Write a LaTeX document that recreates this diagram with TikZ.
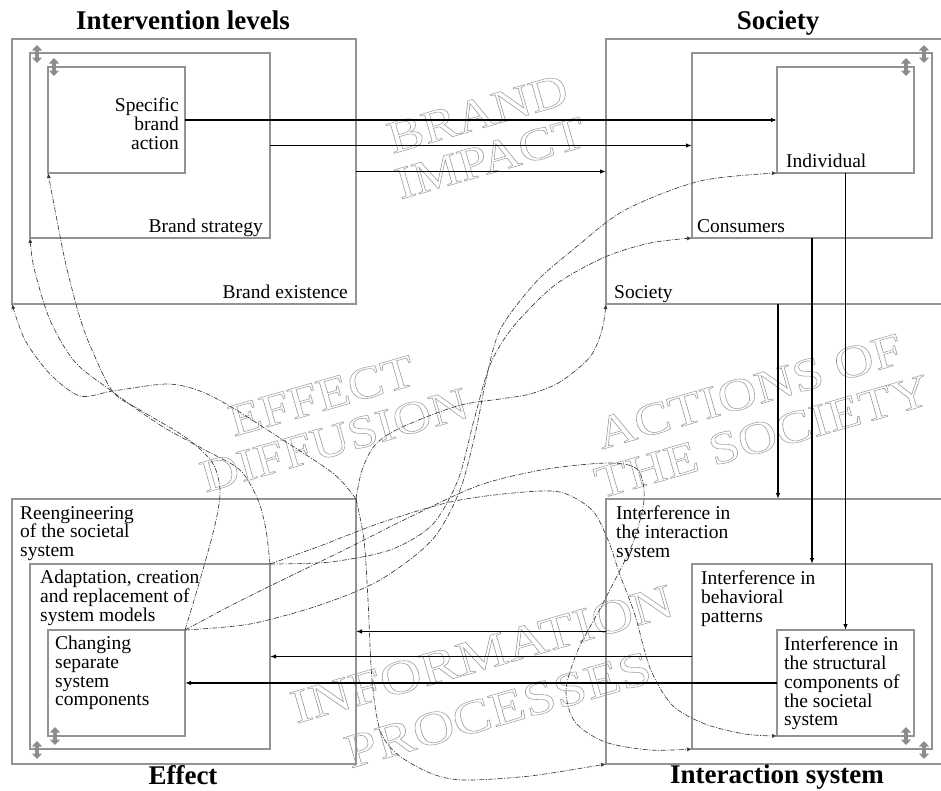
\documentclass[tikz,border=0pt]{standalone}
\usepackage{fontspec}
\setmainfont{Liberation Serif}
\usetikzlibrary{arrows.meta}
\newcommand{\hollow}[1]{\special{pdf:literal direct 1 Tr 0.55 w 0.62 G}#1\special{pdf:literal direct 0 Tr 0 G}}

\begin{document}
\begin{tikzpicture}[x=1pt, y=-1pt,
    lvlbox/.style={draw=gray!85, line width=1.1pt, inner sep=0pt, outer sep=0pt},
    lbl/.style={font=\fontsize{19.5}{18.7}\selectfont, inner sep=0pt},
    ttl/.style={font=\fontsize{27}{30}\selectfont\bfseries, inner sep=0pt},
    wmark/.style={font=\fontsize{46}{46}\selectfont, align=center, inner sep=0pt, rotate=16, xscale=1.15},
    impact/.style={line width=1.8pt, -{Latex[length=6pt,width=4.5pt]}},
    diffuse/.style={gray!45!black, line width=0.65pt, dash pattern=on 5pt off 1.5pt on 1pt off 1.5pt, -{Latex[length=5pt,width=4pt]}},
    updown/.style={gray!90, line width=4pt, {Triangle[length=5.5pt,width=10pt]}-{Triangle[length=5.5pt,width=10pt]}}]

    \useasboundingbox (0,0) rectangle (941,790);

    % watermarks
    \node[wmark] (wbrand) at (484,136) {\hollow{BRAND}\\\hollow{IMPACT}};
    \node[wmark] (weff) at (328,418) {\hollow{EFFECT}\\\hollow{DIFFUSION}};
    \node[wmark, font=\fontsize{46}{47}\selectfont, xscale=1.02] (wact) at (756,414) {\hollow{ACTIONS OF}\\\hollow{THE SOCIETY}};
    \node[wmark, font=\fontsize{48}{58}\selectfont, xscale=1.04] (winfo) at (490,682) {\hollow{INFORMATION}\\\hollow{PROCESSES}};

    % intervention levels
    \node[lvlbox, minimum width=344pt, minimum height=265pt] (exist) at (184,171.5) {};
    \node[lvlbox, minimum width=240pt, minimum height=185pt] (strat) at (150,145.5) {};
    \node[lvlbox, minimum width=137pt, minimum height=106pt] (action) at (116.5,120) {};
    % society
    \node[lvlbox, minimum width=344pt, minimum height=265pt] (soc) at (778,171.5) {};
    \node[lvlbox, minimum width=240pt, minimum height=185pt] (cons) at (812,145.5) {};
    \node[lvlbox, minimum width=137pt, minimum height=106pt] (indiv) at (845.5,120) {};
    % effect
    \node[lvlbox, minimum width=344pt, minimum height=265pt] (reeng) at (184,631.5) {};
    \node[lvlbox, minimum width=240pt, minimum height=185pt] (adapt) at (150,656.5) {};
    \node[lvlbox, minimum width=137pt, minimum height=106pt] (chng) at (116.5,683) {};
    % interaction system
    \node[lvlbox, minimum width=344pt, minimum height=265pt] (intsys) at (778,631.5) {};
    \node[lvlbox, minimum width=240pt, minimum height=185pt] (behav) at (812,656.5) {};
    \node[lvlbox, minimum width=137pt, minimum height=106pt] (struct) at (845.5,683) {};

    \node[ttl, anchor=base] at (183,29) {Intervention levels};
    \node[ttl, anchor=base] at (778,29) {Society};
    \node[ttl, anchor=base] at (183,784) {Effect};
    \node[ttl, anchor=base] at (777,783) {Interaction system};

    \node[lbl, anchor=north east, align=right] at (179,98) {Specific\\brand\\action};
    \node[lbl, anchor=base east] at (263,232) {Brand strategy};
    \node[lbl, anchor=base east] at (348,298) {Brand existence};
    \node[lbl, anchor=base west] at (786,167) {Individual};
    \node[lbl, anchor=base west] at (697,232) {Consumers};
    \node[lbl, anchor=base west] at (614,298) {Society};

    \node[lbl, anchor=north west, align=left] at (20,506) {Reengineering\\of the societal\\system};
    \node[lbl, anchor=north west, align=left] at (40,570) {Adaptation, creation\\and replacement of\\system models};
    \node[lbl, anchor=north west, align=left] at (55,636) {Changing\\separate\\system\\components};
    \node[lbl, anchor=north west, align=left] at (616,506) {Interference in\\the interaction\\system};
    \node[lbl, anchor=north west, align=left] at (701,571) {Interference in\\behavioral\\patterns};
    \node[lbl, anchor=north west, align=left] at (784,637) {Interference in\\the structural\\components of\\the societal\\system};

    \foreach \x/\y in {37/54, 54/67, 924/54, 906/67, 37/750, 55/736, 906/736, 924/750}
        \draw[updown] (\x,\y-9) -- (\x,\y+9);

    % brand impact and actions of the society
    \draw[impact] (action.east) -- (indiv.west);
    \draw[impact] (strat.east) -- (cons.west);
    \draw[impact] (exist.east) -- (soc.west);
    \draw[impact] (indiv.south) -- (struct.north);
    \draw[impact] (cons.south) -- (behav.north);
    \draw[impact] (soc.south) -- (intsys.north);
    \draw[impact] (intsys.west) -- (reeng.east);
    \draw[impact] (behav.west) -- (adapt.east);
    \draw[impact] (struct.west) -- (chng.east);

    % effect diffusion
    \draw[diffuse] plot[smooth] coordinates {(reeng.north east) (334,474) (283,440) (233,408) (200,391) (167,384) (113,391) (80,396) (50,374) (25,340) (exist.south west)};
    \draw[diffuse] plot[smooth] coordinates {(adapt.north east) (266,530) (258,500) (240,470) (205,450) (160,425) (113,392) (75,362) (50,320) (34,268) (strat.south west)};
    \draw[diffuse] plot[smooth] coordinates {(chng.north east) (200,580) (215,525) (220,490) (212,462) (185,437) (140,410) (113,392) (92,350) (80,318) (66,265) (55,210) (action.south west)};
    \draw[diffuse] plot[smooth] coordinates {(reeng.north east) (362,470) (375,445) (400,428) (457,406) (500,399) (530,394) (560,382) (590,357) (602,330) (soc.south west)};
    \draw[diffuse] plot[smooth] coordinates {(adapt.north east) (330,562) (390,550) (432,525) (458,480) (474,420) (490,365) (513,327) (555,285) (605,257) (650,243) (cons.south west)};
    \draw[diffuse] plot[smooth] coordinates {(chng.north east) (250,624) (320,605) (380,580) (432,540) (460,490) (476,430) (486,380) (500,330) (535,283) (575,248) (625,210) (700,181) (indiv.south west)};

    % information processes
    \draw[diffuse] plot[smooth] coordinates {(chng.north east) (230,606) (270,586) (340,552) (410,517) (480,485) (547,469) (610,463) (638,470) (644,500) (632,545) (603,603) (578,650) (566,690) (575,722) (605,742) (650,750) (behav.south west)};
    \draw[diffuse] plot[smooth] coordinates {(adapt.north east) (320,546) (380,523) (450,502) (513,493) (560,492) (592,510) (608,540) (620,575) (635,615) (650,668) (672,705) (705,724) (745,734) (struct.south west)};
    \draw[diffuse] plot[smooth] coordinates {(reeng.north east) (364,540) (368,600) (372,680) (380,730) (397,754) (430,773) (463,780) (530,776) (intsys.south west)};
\end{tikzpicture}
\end{document}
